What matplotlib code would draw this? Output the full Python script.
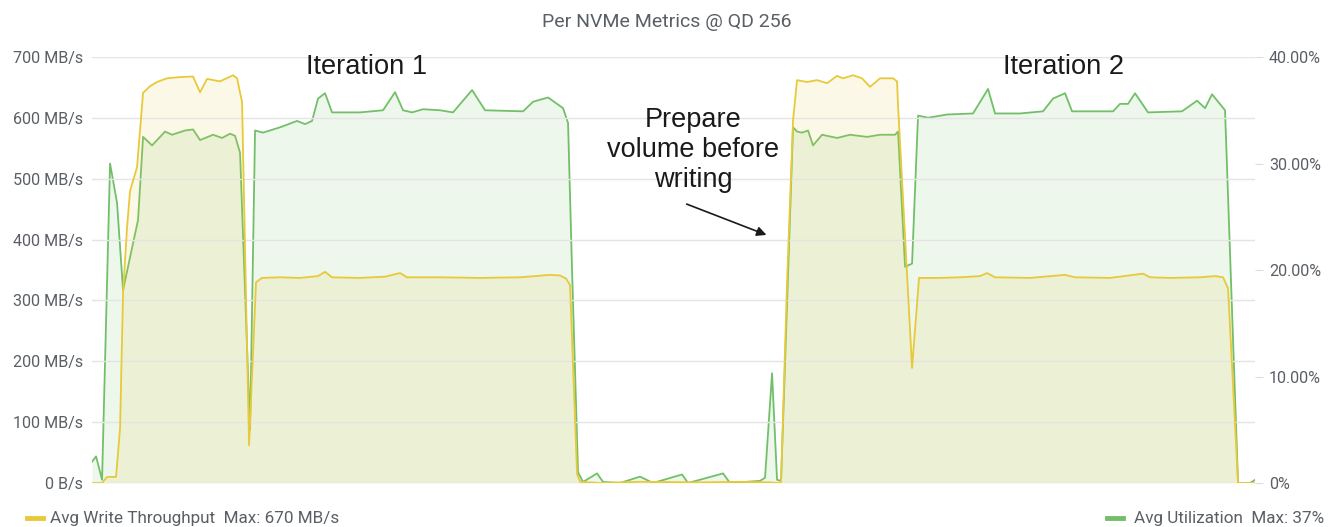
import numpy as np
import matplotlib.pyplot as plt
from matplotlib.lines import Line2D

# time (s since start) / write throughput (MB/s)
thru_t = [0, 10, 15, 24, 28, 31, 35, 38, 45, 51, 58, 65, 75, 88, 101, 108, 115, 128, 141,
          145, 150, 157, 164, 170, 188, 208, 226, 233, 240, 268, 293, 308, 315, 348, 388,
          428, 458, 468, 474, 478, 485, 488, 508, 548, 608, 648, 678, 686, 689, 695, 701,
          705, 715, 725, 735, 745, 751, 761, 770, 778, 788, 796, 801, 805, 806, 820, 827,
          848, 868, 888, 895, 903, 938, 973, 983, 1018, 1051, 1058, 1078, 1108, 1123, 1131,
          1136, 1146, 1163]
thru_v = [0, 0, 10, 10, 90, 312, 420, 480, 519, 641, 652, 659, 665, 667, 668, 642, 664,
          660, 670, 665, 626, 62, 330, 337, 338, 337, 340, 347, 338, 337, 339, 345, 338,
          338, 337, 338, 342, 341, 336, 325, 15, 2, 0, 2, 1, 2, 1, 0, 2, 330, 596, 662,
          659, 662, 657, 669, 665, 670, 665, 651, 665, 665, 665, 660, 620, 189, 337, 337,
          338, 340, 345, 338, 337, 342, 338, 337, 344, 338, 337, 338, 340, 338, 320, 0, 0]

# time (s since start) / device utilization (%)
util_t = [0, 4, 10, 18, 25, 31, 38, 46, 51, 60, 66, 73, 80, 93, 101, 108, 121, 130, 138,
          143, 148, 158, 163, 171, 188, 205, 213, 220, 226, 233, 240, 268, 291, 303, 311,
          320, 331, 348, 361, 380, 393, 431, 441, 456, 471, 476, 480, 486, 491, 505, 511,
          528, 548, 561, 590, 596, 631, 638, 668, 673, 680, 685, 689, 701, 705, 710, 716,
          721, 730, 745, 758, 775, 788, 803, 806, 813, 820, 826, 836, 855, 881, 896, 903,
          928, 951, 961, 973, 980, 1021, 1028, 1036, 1043, 1056, 1090, 1105, 1113, 1120,
          1133, 1146, 1158, 1163]
util_v = [2.0, 2.5, 0.3, 30.0, 26.3, 18.1, 21.2, 24.7, 32.5, 31.7, 32.3, 33.0, 32.7, 33.1,
          33.2, 32.2, 32.7, 32.4, 32.8, 32.6, 31.0, 5.0, 33.1, 32.9, 33.4, 34.0, 33.7, 34.0,
          36.1, 36.6, 34.8, 34.8, 35.0, 36.7, 35.0, 34.8, 35.1, 35.0, 34.8, 36.9, 35.0,
          34.9, 35.8, 36.2, 35.2, 33.8, 20.0, 1.0, 0.1, 0.9, 0.1, 0.0, 0.6, 0.0, 0.8, 0.0,
          0.9, 0.0, 0.2, 0.5, 10.3, 0.3, 0.2, 33.4, 33.0, 32.9, 33.1, 31.7, 32.7, 32.4,
          32.7, 32.5, 32.7, 32.7, 33.0, 20.3, 20.6, 34.5, 34.3, 34.6, 34.7, 37.0, 34.7,
          34.7, 34.9, 36.1, 36.6, 34.9, 34.9, 35.6, 35.6, 36.6, 34.8, 34.9, 35.9, 35.2,
          36.5, 35.0, 0.0, 0.0, 0.3]

left_ticks = [0, 100, 200, 300, 400, 500, 600, 700]
left_labels = ["0 B/s"] + ["%d MB/s" % v for v in left_ticks[1:]]
right_ticks = [0, 10, 20, 30, 40]
right_labels = ["0%"] + ["%.2f%%" % v for v in right_ticks[1:]]

yellow = "#e8c93a"
green = "#73bf69"
grey = "#5a5f66"

fig = plt.figure(figsize=(13.38, 5.27), dpi=100)
ax = fig.add_axes([0.0688, 0.0835, 0.8692, 0.8083])
ax2 = ax.twinx()

# utilization on the right axis
ax2.plot(util_t, util_v, color=green, lw=1.3)
ax2.fill_between(util_t, util_v, color=green, alpha=0.12, lw=0)
ax2.set_ylim(0, 40)
ax2.set_yticks(right_ticks)
ax2.set_yticklabels(right_labels)

# throughput on the left axis, drawn above the green series
ax.set_zorder(ax2.get_zorder() + 1)
ax.patch.set_visible(False)
ax.plot(thru_t, thru_v, color=yellow, lw=1.3)
ax.fill_between(thru_t, thru_v, color=yellow, alpha=0.12, lw=0)
ax.set_ylim(0, 700)
ax.set_xlim(0, 1163)
ax.set_yticks(left_ticks)
ax.set_yticklabels(left_labels)
ax.set_xticks([])
ax.grid(axis="y", color="#e4e4e4", lw=1)

for a in (ax, ax2):
    for s in a.spines.values():
        s.set_visible(False)
    a.tick_params(labelsize=11.6, colors=grey, labelfontfamily="Roboto")
ax.tick_params(axis="y", length=0, pad=6.5)
ax2.tick_params(axis="y", length=6, color="#dddddd", pad=4)

fig.text(0.498, 0.958, "Per NVMe Metrics @ QD 256", ha="center", va="center",
         fontsize=14, color=grey, family="Roboto")

ann = dict(family="Liberation Sans", color="#1a1a1a", ha="center", va="center")
ax.text(275, 683, "Iteration 1", fontsize=19.6, **ann)
ax.text(971, 683, "Iteration 2", fontsize=19.6, **ann)
ax.text(601, 547, "Prepare\nvolume before\nwriting", fontsize=19.5, linespacing=1.2, **ann)
ax.annotate("", xy=(677, 406), xytext=(592, 460),
            arrowprops=dict(arrowstyle="-|>", color="#1a1a1a", lw=1.2,
                            mutation_scale=14))

# legend entries along the bottom
fig.add_artist(Line2D([0.020, 0.032], [0.017, 0.017], color=yellow, lw=3.5))
fig.text(0.037, 0.017, "Avg Write Throughput  Max: 670 MB/s", va="center",
         fontsize=12.3, color=grey, family="Roboto")
fig.add_artist(Line2D([0.827, 0.839], [0.017, 0.017], color=green, lw=3.5))
fig.text(0.990, 0.017, "Avg Utilization  Max: 37%", va="center", ha="right",
         fontsize=12.3, color=grey, family="Roboto")

fig.savefig("out.png", dpi=100)
